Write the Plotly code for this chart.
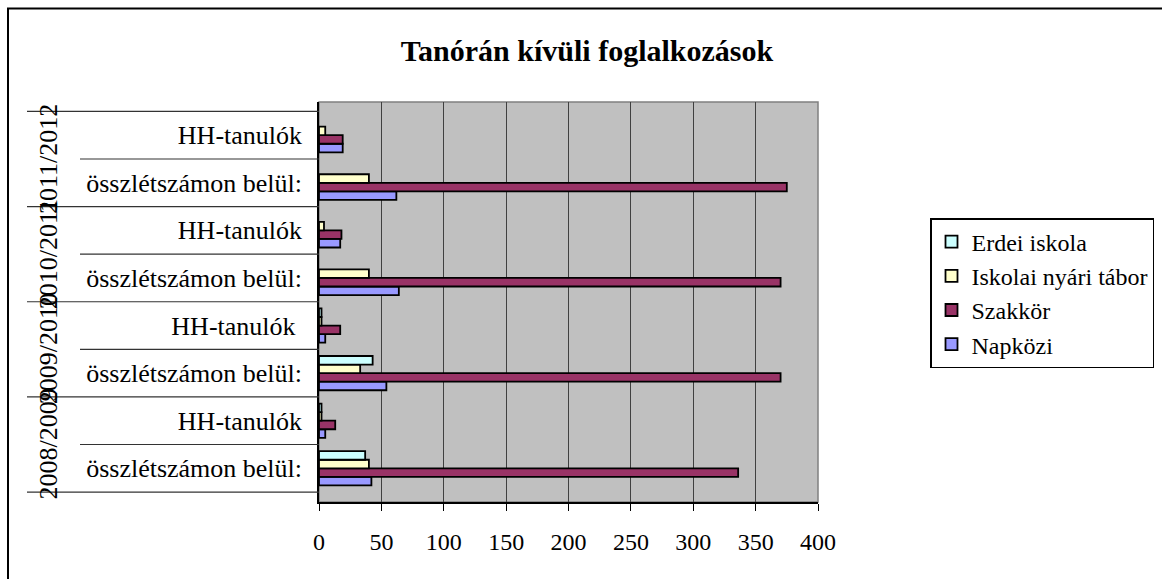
import plotly.graph_objects as go

years = ["2008/2009", "2009/2010", "2010/2011", "2011/2012"]
# bottom-to-top order of categories
sub_labels = [
    "összlétszámon belül:", "HH-tanulók",
    "összlétszámon belül:", "HH-tanulók\u00a0",
    "összlétszámon belül:", "HH-tanulók",
    "összlétszámon belül:", "HH-tanulók",
]
cat_keys = [f"{years[i // 2]}|{sub_labels[i]}" for i in range(8)]

napkozi = [42, 5, 54, 5, 64, 17, 62, 19]
szakkor = [336, 13, 370, 17, 370, 18, 375, 19]
nyari_tabor = [40, 2, 33, 2, 40, 4, 40, 5]
erdei_iskola = [37, 2, 43, 2, None, None, None, None]

series = [
    ("Napközi", napkozi, "#9999FF"),
    ("Szakkör", szakkor, "#993366"),
    ("Iskolai nyári tábor", nyari_tabor, "#FFFFCC"),
    ("Erdei iskola", erdei_iskola, "#CCFFFF"),
]

FONT = "Liberation Serif"

fig = go.Figure()
for name, vals, col in series:
    fig.add_trace(go.Bar(
        name=name, x=vals, y=cat_keys, orientation="h",
        marker=dict(color=col, line=dict(color="black", width=1.8)),
    ))

# plot area geometry (pixels) for converting pixel layout to paper coords
L, R, T, B = 319, 818, 102, 502
W, H = R - L, B - T

def px_x(p):
    return (p - L) / W

def px_y(p):
    return (B - p) / H

shapes = []
# plot area frame
shapes.append(dict(type="rect", xref="paper", yref="paper", x0=0, x1=1, y0=0, y1=1,
                   line=dict(color="#808080", width=1.5), layer="below"))
# outer chart border
shapes.append(dict(type="rect", xref="paper", yref="paper",
                   x0=px_x(8), x1=px_x(1200), y0=px_y(8.5), y1=px_y(620),
                   line=dict(color="black", width=2)))
# label dividers
for i in range(len(years)):
    lo = 2 * i - 0.5
    mid = 2 * i + 0.5
    hi = 2 * i + 1.5
    shapes.append(dict(type="line", xref="paper", yref="y", x0=px_x(27), x1=0,
                       y0=lo, y1=lo, line=dict(color="#333333", width=1.2)))
    shapes.append(dict(type="line", xref="paper", yref="y", x0=px_x(80), x1=0,
                       y0=mid, y1=mid, line=dict(color="#333333", width=1.2)))
    if i == len(years) - 1:
        shapes.append(dict(type="line", xref="paper", yref="y", x0=px_x(27), x1=0,
                           y0=hi, y1=hi, line=dict(color="#333333", width=1.2)))

annotations = []
for i, yr in enumerate(years):
    annotations.append(dict(
        text=yr, xref="paper", yref="y", x=px_x(48), y=2 * i + 0.5,
        textangle=-90, showarrow=False, xanchor="center", yanchor="middle",
        font=dict(family=FONT, size=26, color="black"),
    ))

fig.update_layout(
    width=1162, height=579,
    margin=dict(l=L, r=1162 - R, t=T, b=579 - B, autoexpand=False),
    paper_bgcolor="white", plot_bgcolor="#C0C0C0",
    barmode="group", bargap=0.28, bargroupgap=0,
    title=dict(text="<b>Tanórán kívüli foglalkozások</b>", x=587 / 1162, xref="container",
               xanchor="center", y=1 - 50 / 579, yref="container", yanchor="middle",
               font=dict(family=FONT, size=30, color="black")),
    font=dict(family=FONT, size=26, color="black"),
    xaxis=dict(range=[0, 400], dtick=50, tick0=0, showgrid=True, gridcolor="#404040",
               gridwidth=1, zeroline=False, showline=True, linecolor="black", linewidth=1.5,
               ticks="outside", ticklen=7, tickcolor="black", tickwidth=1,
               ticklabelstandoff=10, automargin=False,
               tickfont=dict(family=FONT, size=24, color="black")),
    yaxis=dict(type="category", categoryorder="array", categoryarray=cat_keys,
               tickvals=cat_keys, ticktext=sub_labels, showgrid=False, zeroline=False,
               showline=True, linecolor="black", linewidth=1.5, ticks="",
               ticklabelstandoff=10, automargin=False,
               tickfont=dict(family=FONT, size=26, color="black")),
    legend=dict(xref="container", yref="container", x=930 / 1162, y=1 - 218 / 579,
                xanchor="left", yanchor="top", entrywidth=240,
                traceorder="reversed", bgcolor="white", bordercolor="black",
                borderwidth=1.5, font=dict(family=FONT, size=24, color="black"),
                itemclick=False),
    shapes=shapes, annotations=annotations,
)

fig.write_html("out.html", config={"displayModeBar": False},
               post_script="document.body.style.margin='0px';")
